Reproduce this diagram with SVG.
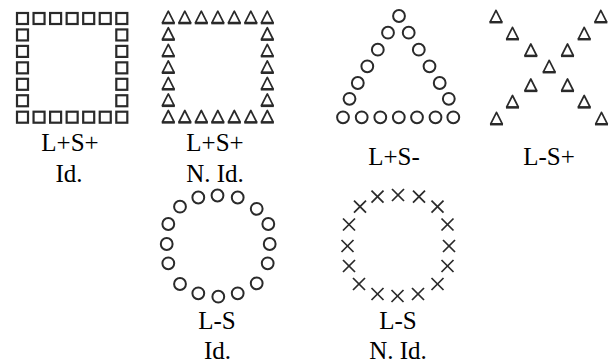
<svg xmlns="http://www.w3.org/2000/svg" xmlns:xlink="http://www.w3.org/1999/xlink" width="611" height="362" viewBox="0 0 611 362">
<style>
.lbl{font-family:"Liberation Serif","Times New Roman",serif;font-size:25px;fill:#000;text-anchor:middle}
.sym{fill:none;stroke:#2a2a2a;}
</style>
<defs>
<rect id="sq" class="sym" x="-5.5" y="-5.5" width="11" height="11" stroke-width="2.2"/>
<g id="tri"><polygon class="sym" points="0,-6 -5.8,5.5 5.8,5.5" stroke-width="1.7" stroke-linejoin="round"/><line x1="-6.5" y1="6" x2="6.5" y2="6" stroke="#2a2a2a" stroke-width="2.3"/></g>
<circle id="ci" class="sym" r="5.9" stroke-width="2"/>
<g id="cr" stroke="#2a2a2a" stroke-width="1.7"><line x1="-6" y1="-6" x2="6" y2="6"/><line x1="-6" y1="6" x2="6" y2="-6"/></g>
</defs>
<g id="fig-lpsp-id">
<use xlink:href="#sq" x="22.5" y="18.5"/><use xlink:href="#sq" x="39.05" y="18.5"/><use xlink:href="#sq" x="55.6" y="18.5"/><use xlink:href="#sq" x="72.15" y="18.5"/><use xlink:href="#sq" x="88.7" y="18.5"/><use xlink:href="#sq" x="105.25" y="18.5"/><use xlink:href="#sq" x="121.8" y="18.5"/>
<use xlink:href="#sq" x="22.5" y="34.95"/><use xlink:href="#sq" x="22.5" y="51.4"/><use xlink:href="#sq" x="22.5" y="67.85"/><use xlink:href="#sq" x="22.5" y="84.3"/><use xlink:href="#sq" x="22.5" y="100.75"/>
<use xlink:href="#sq" x="121.8" y="34.95"/><use xlink:href="#sq" x="121.8" y="51.4"/><use xlink:href="#sq" x="121.8" y="67.85"/><use xlink:href="#sq" x="121.8" y="84.3"/><use xlink:href="#sq" x="121.8" y="100.75"/>
<use xlink:href="#sq" x="22.5" y="117.2"/><use xlink:href="#sq" x="39.05" y="117.2"/><use xlink:href="#sq" x="55.6" y="117.2"/><use xlink:href="#sq" x="72.15" y="117.2"/><use xlink:href="#sq" x="88.7" y="117.2"/><use xlink:href="#sq" x="105.25" y="117.2"/><use xlink:href="#sq" x="121.8" y="117.2"/>
<text class="lbl" x="70" y="151">L+S+</text>
<text class="lbl" x="69" y="182">Id.</text>
</g>
<g id="fig-lpsp-nid">
<use xlink:href="#tri" x="168.3" y="17.2"/><use xlink:href="#tri" x="184.8" y="17.2"/><use xlink:href="#tri" x="201.3" y="17.2"/><use xlink:href="#tri" x="217.8" y="17.2"/><use xlink:href="#tri" x="234.3" y="17.2"/><use xlink:href="#tri" x="250.8" y="17.2"/><use xlink:href="#tri" x="267.3" y="17.2"/>
<use xlink:href="#tri" x="168.3" y="33.75"/><use xlink:href="#tri" x="168.3" y="50.3"/><use xlink:href="#tri" x="168.3" y="66.85"/><use xlink:href="#tri" x="168.3" y="83.4"/><use xlink:href="#tri" x="168.3" y="99.95"/>
<use xlink:href="#tri" x="267.3" y="33.75"/><use xlink:href="#tri" x="267.3" y="50.3"/><use xlink:href="#tri" x="267.3" y="66.85"/><use xlink:href="#tri" x="267.3" y="83.4"/><use xlink:href="#tri" x="267.3" y="99.95"/>
<use xlink:href="#tri" x="168.3" y="116.5"/><use xlink:href="#tri" x="184.8" y="116.5"/><use xlink:href="#tri" x="201.3" y="116.5"/><use xlink:href="#tri" x="217.8" y="116.5"/><use xlink:href="#tri" x="234.3" y="116.5"/><use xlink:href="#tri" x="250.8" y="116.5"/><use xlink:href="#tri" x="267.3" y="116.5"/>
<text class="lbl" x="215" y="151">L+S+</text>
<text class="lbl" x="215" y="182">N. Id.</text>
</g>
<g id="fig-lpsm">
<use xlink:href="#ci" x="399" y="16"/>
<use xlink:href="#ci" x="388" y="32.7"/><use xlink:href="#ci" x="377.8" y="49.7"/><use xlink:href="#ci" x="367.3" y="66.3"/><use xlink:href="#ci" x="357.8" y="83"/><use xlink:href="#ci" x="349.5" y="98.8"/>
<use xlink:href="#ci" x="408.7" y="32.7"/><use xlink:href="#ci" x="418.8" y="49.7"/><use xlink:href="#ci" x="429.5" y="66.3"/><use xlink:href="#ci" x="439.7" y="83"/><use xlink:href="#ci" x="448.8" y="98.8"/>
<use xlink:href="#ci" x="343" y="117.3"/><use xlink:href="#ci" x="361.7" y="117.3"/><use xlink:href="#ci" x="380.3" y="117.3"/><use xlink:href="#ci" x="398.8" y="117.3"/><use xlink:href="#ci" x="417" y="117.3"/><use xlink:href="#ci" x="435.5" y="117.3"/><use xlink:href="#ci" x="453.3" y="117.3"/>
<text class="lbl" x="394" y="165">L+S-</text>
</g>
<g id="fig-lmsp">
<use xlink:href="#tri" x="496" y="16.3"/><use xlink:href="#tri" x="512.5" y="33.3"/><use xlink:href="#tri" x="530.8" y="50"/>
<use xlink:href="#tri" x="549.2" y="66.3"/>
<use xlink:href="#tri" x="530.8" y="85"/><use xlink:href="#tri" x="512.5" y="101.5"/><use xlink:href="#tri" x="496.5" y="118.3"/>
<use xlink:href="#tri" x="600.8" y="16.3"/><use xlink:href="#tri" x="584.2" y="33.3"/><use xlink:href="#tri" x="567.5" y="50"/>
<use xlink:href="#tri" x="567.5" y="85"/><use xlink:href="#tri" x="584.2" y="101.5"/><use xlink:href="#tri" x="601.5" y="118.3"/>
<text class="lbl" x="549" y="165">L-S+</text>
</g>
<g id="fig-lms-id">
<use xlink:href="#ci" x="217.5" y="195.5"/><use xlink:href="#ci" x="198.3" y="197.5"/><use xlink:href="#ci" x="237.7" y="197.5"/>
<use xlink:href="#ci" x="180" y="206.7"/><use xlink:href="#ci" x="256.7" y="208.8"/>
<use xlink:href="#ci" x="168.3" y="224"/><use xlink:href="#ci" x="268.3" y="224"/>
<use xlink:href="#ci" x="166.7" y="244"/><use xlink:href="#ci" x="269.7" y="244"/>
<use xlink:href="#ci" x="168.3" y="263.3"/><use xlink:href="#ci" x="267.7" y="263.3"/>
<use xlink:href="#ci" x="180" y="284"/><use xlink:href="#ci" x="256.7" y="283.3"/>
<use xlink:href="#ci" x="198.3" y="293.3"/><use xlink:href="#ci" x="218.3" y="296.7"/><use xlink:href="#ci" x="237.7" y="293.3"/>
<text class="lbl" x="217" y="328.5">L-S</text>
<text class="lbl" x="217.5" y="358.5">Id.</text>
</g>
<g id="fig-lms-nid">
<use xlink:href="#cr" x="377.5" y="196.7"/><use xlink:href="#cr" x="398" y="195"/><use xlink:href="#cr" x="419" y="196.7"/>
<use xlink:href="#cr" x="360" y="206.7"/><use xlink:href="#cr" x="437.5" y="206.7"/>
<use xlink:href="#cr" x="349" y="224.5"/><use xlink:href="#cr" x="447.5" y="224.5"/>
<use xlink:href="#cr" x="347.5" y="246"/><use xlink:href="#cr" x="449" y="246"/>
<use xlink:href="#cr" x="349" y="266"/><use xlink:href="#cr" x="447.5" y="266"/>
<use xlink:href="#cr" x="359" y="284"/><use xlink:href="#cr" x="437.5" y="284"/>
<use xlink:href="#cr" x="377.5" y="294"/><use xlink:href="#cr" x="397.5" y="296"/><use xlink:href="#cr" x="418" y="294"/>
<text class="lbl" x="398" y="328.5">L-S</text>
<text class="lbl" x="398" y="358.5">N. Id.</text>
</g>
<g id="connectors"/>
</svg>
